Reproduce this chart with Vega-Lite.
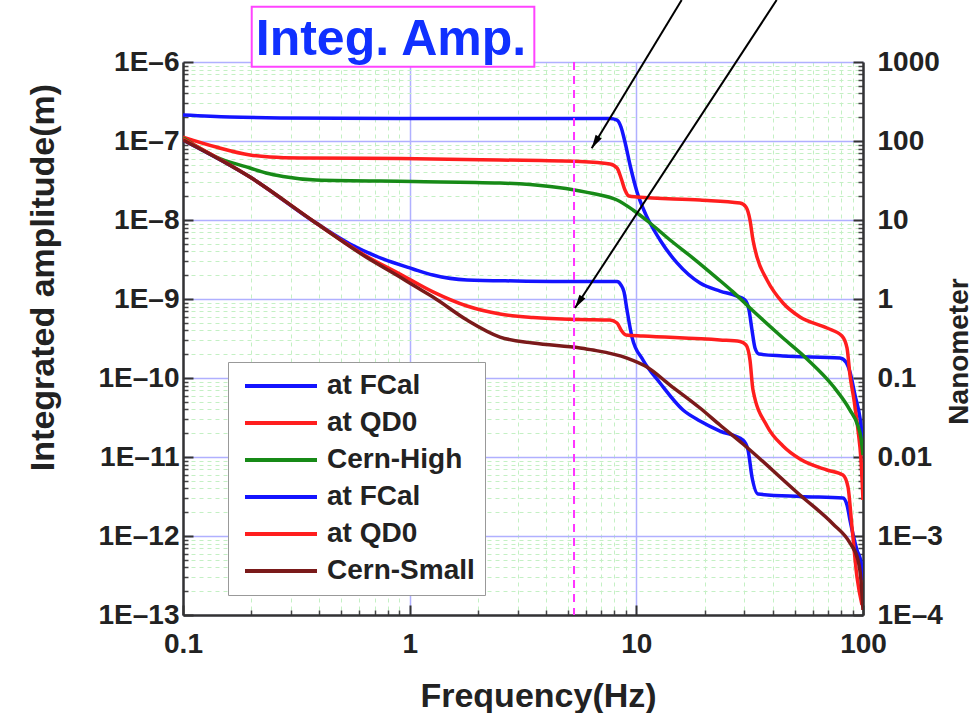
{
  "$schema": "https://vega.github.io/schema/vega-lite/v6.json",
  "width": 680,
  "height": 553,
  "autosize": {"type": "none"},
  "padding": {"left": 183, "top": 62, "right": 113, "bottom": 98},
  "background": "white",
  "config": {"view": {"stroke": null}, "font": "Liberation Sans"},
  "resolve": {"axis": {"x": "independent", "y": "independent"}},
  "data": {
    "values": [
      {"f": 0.1, "v": 2.13e-7, "series": "High: at FCal"},
      {"f": 0.161, "v": 2.01e-7, "series": "High: at FCal"},
      {"f": 0.268, "v": 1.96e-7, "series": "High: at FCal"},
      {"f": 0.906, "v": 1.93e-7, "series": "High: at FCal"},
      {"f": 3.07, "v": 1.93e-7, "series": "High: at FCal"},
      {"f": 7.65, "v": 1.93e-7, "series": "High: at FCal"},
      {"f": 8.22, "v": 1.84e-7, "series": "High: at FCal"},
      {"f": 8.56, "v": 1.5e-7, "series": "High: at FCal"},
      {"f": 8.91, "v": 9.71e-8, "series": "High: at FCal"},
      {"f": 9.38, "v": 4.97e-8, "series": "High: at FCal"},
      {"f": 10.07, "v": 2.26e-8, "series": "High: at FCal"},
      {"f": 11.03, "v": 1.16e-8, "series": "High: at FCal"},
      {"f": 12.72, "v": 5.58e-9, "series": "High: at FCal"},
      {"f": 15.12, "v": 2.86e-9, "series": "High: at FCal"},
      {"f": 19.09, "v": 1.59e-9, "series": "High: at FCal"},
      {"f": 23.39, "v": 1.26e-9, "series": "High: at FCal"},
      {"f": 27.81, "v": 1.09e-9, "series": "High: at FCal"},
      {"f": 30.16, "v": 9.71e-10, "series": "High: at FCal"},
      {"f": 31.41, "v": 7.26e-10, "series": "High: at FCal"},
      {"f": 32.38, "v": 4.05e-10, "series": "High: at FCal"},
      {"f": 33.38, "v": 2.4e-10, "series": "High: at FCal"},
      {"f": 34.76, "v": 2.01e-10, "series": "High: at FCal"},
      {"f": 44.36, "v": 1.9e-10, "series": "High: at FCal"},
      {"f": 79.15, "v": 1.79e-10, "series": "High: at FCal"},
      {"f": 84.14, "v": 1.59e-10, "series": "High: at FCal"},
      {"f": 87.6, "v": 1.19e-10, "series": "High: at FCal"},
      {"f": 92.19, "v": 6.09e-11, "series": "High: at FCal"},
      {"f": 96.98, "v": 3.12e-11, "series": "High: at FCal"},
      {"f": 100, "v": 1.5e-11, "series": "High: at FCal"},

      {"f": 0.1, "v": 1.12e-7, "series": "High: at QD0"},
      {"f": 0.14, "v": 8.39e-8, "series": "High: at QD0"},
      {"f": 0.1975, "v": 6.65e-8, "series": "High: at QD0"},
      {"f": 0.242, "v": 6.27e-8, "series": "High: at QD0"},
      {"f": 0.328, "v": 6.09e-8, "series": "High: at QD0"},
      {"f": 0.906, "v": 6.0e-8, "series": "High: at QD0"},
      {"f": 2.5, "v": 5.75e-8, "series": "High: at QD0"},
      {"f": 5.64, "v": 5.5e-8, "series": "High: at QD0"},
      {"f": 7.65, "v": 5.12e-8, "series": "High: at QD0"},
      {"f": 8.22, "v": 4.55e-8, "series": "High: at QD0"},
      {"f": 8.56, "v": 3.4e-8, "series": "High: at QD0"},
      {"f": 8.91, "v": 2.4e-8, "series": "High: at QD0"},
      {"f": 9.28, "v": 2.01e-8, "series": "High: at QD0"},
      {"f": 10.07, "v": 1.955e-8, "series": "High: at QD0"},
      {"f": 19.09, "v": 1.79e-8, "series": "High: at QD0"},
      {"f": 28.67, "v": 1.64e-8, "series": "High: at QD0"},
      {"f": 30.46, "v": 1.46e-8, "series": "High: at QD0"},
      {"f": 31.72, "v": 1.0e-8, "series": "High: at QD0"},
      {"f": 32.71, "v": 5.58e-9, "series": "High: at QD0"},
      {"f": 34.06, "v": 3.4e-9, "series": "High: at QD0"},
      {"f": 37.71, "v": 1.74e-9, "series": "High: at QD0"},
      {"f": 44.36, "v": 8.9e-10, "series": "High: at QD0"},
      {"f": 52.72, "v": 5.92e-10, "series": "High: at QD0"},
      {"f": 69.36, "v": 4.29e-10, "series": "High: at QD0"},
      {"f": 80.77, "v": 3.4e-10, "series": "High: at QD0"},
      {"f": 85.0, "v": 2.4e-10, "series": "High: at QD0"},
      {"f": 87.6, "v": 1.09e-10, "series": "High: at QD0"},
      {"f": 91.27, "v": 5.27e-11, "series": "High: at QD0"},
      {"f": 95.04, "v": 2.2e-11, "series": "High: at QD0"},
      {"f": 97.97, "v": 9.16e-12, "series": "High: at QD0"},
      {"f": 100, "v": 2.86e-12, "series": "High: at QD0"},

      {"f": 0.1, "v": 1.09e-7, "series": "Cern-High"},
      {"f": 0.14, "v": 6.27e-8, "series": "Cern-High"},
      {"f": 0.1975, "v": 4.55e-8, "series": "Cern-High"},
      {"f": 0.2323, "v": 3.93e-8, "series": "Cern-High"},
      {"f": 0.2762, "v": 3.55e-8, "series": "Cern-High"},
      {"f": 0.3862, "v": 3.21e-8, "series": "Cern-High"},
      {"f": 1.034, "v": 3.07e-8, "series": "Cern-High"},
      {"f": 2.503, "v": 2.94e-8, "series": "Cern-High"},
      {"f": 4.16, "v": 2.65e-8, "series": "Cern-High"},
      {"f": 5.641, "v": 2.33e-8, "series": "Cern-High"},
      {"f": 6.439, "v": 2.16e-8, "series": "Cern-High"},
      {"f": 8.22, "v": 1.79e-8, "series": "Cern-High"},
      {"f": 9.667, "v": 1.34e-8, "series": "Cern-High"},
      {"f": 11.49, "v": 9.16e-9, "series": "Cern-High"},
      {"f": 14.08, "v": 5.58e-9, "series": "Cern-High"},
      {"f": 17.78, "v": 3.3e-9, "series": "Cern-High"},
      {"f": 22.69, "v": 1.84e-9, "series": "Cern-High"},
      {"f": 26.7, "v": 1.23e-9, "series": "Cern-High"},
      {"f": 31.72, "v": 7.69e-10, "series": "Cern-High"},
      {"f": 44.36, "v": 3.21e-10, "series": "Cern-High"},
      {"f": 56.61, "v": 1.74e-10, "series": "Cern-High"},
      {"f": 73.74, "v": 7.92e-11, "series": "Cern-High"},
      {"f": 87.6, "v": 3.93e-11, "series": "Cern-High"},
      {"f": 95.04, "v": 2.47e-11, "series": "Cern-High"},
      {"f": 97.97, "v": 1.74e-11, "series": "Cern-High"},
      {"f": 100, "v": 1.06e-11, "series": "Cern-High"},

      {"f": 0.1, "v": 1.03e-7, "series": "Small: at FCal"},
      {"f": 0.1975, "v": 3.5e-8, "series": "Small: at FCal"},
      {"f": 0.3862, "v": 9.16e-9, "series": "Small: at FCal"},
      {"f": 0.5455, "v": 4.97e-9, "series": "Small: at FCal"},
      {"f": 0.7625, "v": 3.21e-9, "series": "Small: at FCal"},
      {"f": 1.034, "v": 2.4e-9, "series": "Small: at FCal"},
      {"f": 1.267, "v": 2.01e-9, "series": "Small: at FCal"},
      {"f": 1.79, "v": 1.74e-9, "series": "Small: at FCal"},
      {"f": 2.975, "v": 1.69e-9, "series": "Small: at FCal"},
      {"f": 5.641, "v": 1.66e-9, "series": "Small: at FCal"},
      {"f": 8.22, "v": 1.66e-9, "series": "Small: at FCal"},
      {"f": 8.56, "v": 1.5e-9, "series": "Small: at FCal"},
      {"f": 8.823, "v": 1.23e-9, "series": "Small: at FCal"},
      {"f": 9.095, "v": 7.26e-10, "series": "Small: at FCal"},
      {"f": 9.568, "v": 3.3e-10, "series": "Small: at FCal"},
      {"f": 10.7, "v": 1.69e-10, "series": "Small: at FCal"},
      {"f": 12.72, "v": 8.64e-11, "series": "Small: at FCal"},
      {"f": 16.07, "v": 3.93e-11, "series": "Small: at FCal"},
      {"f": 19.09, "v": 2.86e-11, "series": "Small: at FCal"},
      {"f": 23.39, "v": 2.13e-11, "series": "Small: at FCal"},
      {"f": 29.55, "v": 1.64e-11, "series": "Small: at FCal"},
      {"f": 31.09, "v": 1.23e-11, "series": "Small: at FCal"},
      {"f": 32.38, "v": 5.58e-12, "series": "Small: at FCal"},
      {"f": 34.41, "v": 3.4e-12, "series": "Small: at FCal"},
      {"f": 52.72, "v": 3.16e-12, "series": "Small: at FCal"},
      {"f": 81.59, "v": 3.03e-12, "series": "Small: at FCal"},
      {"f": 85.0, "v": 2.47e-12, "series": "Small: at FCal"},
      {"f": 87.6, "v": 1.59e-12, "series": "Small: at FCal"},
      {"f": 94.08, "v": 6.65e-13, "series": "Small: at FCal"},
      {"f": 97.97, "v": 4.69e-13, "series": "Small: at FCal"},
      {"f": 100, "v": 2.77e-13, "series": "Small: at FCal"},

      {"f": 0.1, "v": 1.06e-7, "series": "Small: at QD0"},
      {"f": 0.1975, "v": 3.5e-8, "series": "Small: at QD0"},
      {"f": 0.3862, "v": 9.16e-9, "series": "Small: at QD0"},
      {"f": 0.6418, "v": 3.5e-9, "series": "Small: at QD0"},
      {"f": 0.906, "v": 2.07e-9, "series": "Small: at QD0"},
      {"f": 1.267, "v": 1.23e-9, "series": "Small: at QD0"},
      {"f": 1.79, "v": 8.15e-10, "series": "Small: at QD0"},
      {"f": 2.503, "v": 6.46e-10, "series": "Small: at QD0"},
      {"f": 3.5, "v": 5.83e-10, "series": "Small: at QD0"},
      {"f": 5.641, "v": 5.5e-10, "series": "Small: at QD0"},
      {"f": 7.65, "v": 5.42e-10, "series": "Small: at QD0"},
      {"f": 8.22, "v": 4.97e-10, "series": "Small: at QD0"},
      {"f": 8.56, "v": 4.05e-10, "series": "Small: at QD0"},
      {"f": 9.003, "v": 3.5e-10, "series": "Small: at QD0"},
      {"f": 10.7, "v": 3.4e-10, "series": "Small: at QD0"},
      {"f": 23.39, "v": 3.03e-10, "series": "Small: at QD0"},
      {"f": 28.67, "v": 2.9e-10, "series": "Small: at QD0"},
      {"f": 30.46, "v": 2.62e-10, "series": "Small: at QD0"},
      {"f": 31.72, "v": 1.69e-10, "series": "Small: at QD0"},
      {"f": 32.71, "v": 7.05e-11, "series": "Small: at QD0"},
      {"f": 37.71, "v": 2.47e-11, "series": "Small: at QD0"},
      {"f": 44.36, "v": 1.38e-11, "series": "Small: at QD0"},
      {"f": 52.72, "v": 9.43e-12, "series": "Small: at QD0"},
      {"f": 69.36, "v": 6.85e-12, "series": "Small: at QD0"},
      {"f": 81.59, "v": 5.92e-12, "series": "Small: at QD0"},
      {"f": 85.87, "v": 4.17e-12, "series": "Small: at QD0"},
      {"f": 89.41, "v": 1.3e-12, "series": "Small: at QD0"},
      {"f": 94.08, "v": 3.03e-13, "series": "Small: at QD0"},
      {"f": 98.97, "v": 1.34e-13, "series": "Small: at QD0"},

      {"f": 0.1, "v": 1.03e-7, "series": "Cern-Small"},
      {"f": 0.1975, "v": 3.5e-8, "series": "Cern-Small"},
      {"f": 0.3862, "v": 9.16e-9, "series": "Cern-Small"},
      {"f": 0.6418, "v": 3.4e-9, "series": "Cern-Small"},
      {"f": 0.906, "v": 1.9e-9, "series": "Cern-Small"},
      {"f": 1.034, "v": 1.5e-9, "series": "Cern-Small"},
      {"f": 1.267, "v": 1.06e-9, "series": "Cern-Small"},
      {"f": 1.79, "v": 5.42e-10, "series": "Cern-Small"},
      {"f": 2.503, "v": 3.3e-10, "series": "Cern-Small"},
      {"f": 3.5, "v": 2.77e-10, "series": "Cern-Small"},
      {"f": 5.641, "v": 2.4e-10, "series": "Cern-Small"},
      {"f": 6.439, "v": 2.26e-10, "series": "Cern-Small"},
      {"f": 9.095, "v": 1.79e-10, "series": "Cern-Small"},
      {"f": 11.14, "v": 1.38e-10, "series": "Cern-Small"},
      {"f": 14.08, "v": 8.15e-11, "series": "Cern-Small"},
      {"f": 19.09, "v": 4.17e-11, "series": "Cern-Small"},
      {"f": 23.39, "v": 2.54e-11, "series": "Cern-Small"},
      {"f": 29.55, "v": 1.46e-11, "series": "Cern-Small"},
      {"f": 52.72, "v": 3.3e-12, "series": "Cern-Small"},
      {"f": 73.74, "v": 1.42e-12, "series": "Cern-Small"},
      {"f": 87.6, "v": 8.15e-13, "series": "Cern-Small"},
      {"f": 95.04, "v": 4.97e-13, "series": "Cern-Small"},
      {"f": 97.97, "v": 2.77e-13, "series": "Cern-Small"},
      {"f": 100, "v": 1.16e-13, "series": "Cern-Small"}
    ]
  },
  "layer": [
    {
      "data": {"values": [{"f": 1, "v": 1e-9}]},
      "mark": {"type": "point", "opacity": 0},
      "encoding": {
        "x": {"field": "f", "type": "quantitative",
          "scale": {"type": "log", "domain": [0.1, 100], "nice": false},
          "axis": {"orient": "bottom", "values": [0.2,0.3,0.4,0.5,0.6,0.7,0.8,0.9,2,3,4,5,6,7,8,9,20,30,40,50,60,70,80,90],
            "labels": false, "domain": false, "ticks": true, "tickSize": -5, "tickWidth": 1.5, "tickColor": "#444",
            "grid": true, "gridColor": "#c4f0c4", "gridDash": [4, 4], "gridWidth": 1, "title": null, "zindex": 0}},
        "y": {"field": "v", "type": "quantitative",
          "scale": {"type": "log", "domain": [1e-13, 1e-6], "nice": false},
          "axis": {"orient": "left", "values": [2e-13,3e-13,4e-13,5e-13,6e-13,7e-13,8e-13,9e-13,2e-12,3e-12,4e-12,5e-12,6e-12,7e-12,8e-12,9e-12,2e-11,3e-11,4e-11,5e-11,6e-11,7e-11,8e-11,9e-11,2e-10,3e-10,4e-10,5e-10,6e-10,7e-10,8e-10,9e-10,2e-9,3e-9,4e-9,5e-9,6e-9,7e-9,8e-9,9e-9,2e-8,3e-8,4e-8,5e-8,6e-8,7e-8,8e-8,9e-8,2e-7,3e-7,4e-7,5e-7,6e-7,7e-7,8e-7,9e-7],
            "labels": false, "domain": false, "ticks": true, "tickSize": -5, "tickWidth": 1.5, "tickColor": "#444",
            "grid": true, "gridColor": "#c4f0c4", "gridDash": [4, 4], "gridWidth": 1, "title": null, "zindex": 0}}
      }
    },
    {
      "data": {"values": [{"f": 1, "v": 1e-9}]},
      "mark": {"type": "point", "opacity": 0},
      "encoding": {
        "x": {"field": "f", "type": "quantitative", "scale": {"type": "log", "domain": [0.1, 100], "nice": false}, "axis": null},
        "y": {"field": "v", "type": "quantitative",
          "scale": {"type": "log", "domain": [1e-13, 1e-6], "nice": false},
          "axis": {"orient": "right", "values": [2e-13,3e-13,4e-13,5e-13,6e-13,7e-13,8e-13,9e-13,2e-12,3e-12,4e-12,5e-12,6e-12,7e-12,8e-12,9e-12,2e-11,3e-11,4e-11,5e-11,6e-11,7e-11,8e-11,9e-11,2e-10,3e-10,4e-10,5e-10,6e-10,7e-10,8e-10,9e-10,2e-9,3e-9,4e-9,5e-9,6e-9,7e-9,8e-9,9e-9,2e-8,3e-8,4e-8,5e-8,6e-8,7e-8,8e-8,9e-8,2e-7,3e-7,4e-7,5e-7,6e-7,7e-7,8e-7,9e-7],
            "labels": false, "domain": false, "ticks": true, "tickSize": -5, "tickWidth": 1.5, "tickColor": "#444",
            "grid": false, "title": null, "zindex": 0}}
      }
    },
    {
      "mark": {"type": "line", "strokeWidth": 3.5, "interpolate": "monotone", "clip": true},
      "encoding": {
        "x": {"field": "f", "type": "quantitative",
          "scale": {"type": "log", "domain": [0.1, 100], "nice": false},
          "axis": {"orient": "bottom", "values": [0.1, 1, 10, 100],
            "labelExpr": "datum.value < 0.5 ? '0.1' : '' + datum.value",
            "labelFlush": false, "labelFont": "Liberation Sans", "labelFontSize": 28, "labelFontWeight": "bold", "labelColor": "#222",
            "labelPadding": 25, "tickSize": -10, "tickWidth": 2, "tickColor": "#333",
            "domainColor": "#333", "domainWidth": 2.5,
            "grid": true, "gridColor": "#b0b0ff", "gridWidth": 1.5,
            "title": "Frequency(Hz)", "titleFont": "Liberation Sans", "titleFontSize": 34, "titleFontWeight": "bold", "titleColor": "#222",
            "titleX": 355, "titleY": 91, "titleBaseline": "alphabetic", "titleAlign": "center", "zindex": 0}},
        "y": {"field": "v", "type": "quantitative",
          "scale": {"type": "log", "domain": [1e-13, 1e-6], "nice": false},
          "axis": {"orient": "left", "values": [1e-13, 1e-12, 1e-11, 1e-10, 1e-9, 1e-8, 1e-7, 1e-6],
            "labelExpr": "'1E–' + round(-log(datum.value) / LN10)",
            "labelFlush": false, "labelFont": "Liberation Sans", "labelFontSize": 28, "labelFontWeight": "bold", "labelColor": "#222",
            "labelPadding": 14, "tickSize": -10, "tickWidth": 2, "tickColor": "#333",
            "domainColor": "#333", "domainWidth": 2.5,
            "grid": true, "gridColor": "#b0b0ff", "gridWidth": 1.5,
            "title": "Integrated amplitude(m)", "titleFont": "Liberation Sans", "titleFontSize": 34, "titleFontWeight": "bold", "titleColor": "#222",
            "titleX": -130, "titleY": 215, "titleAngle": 270, "titleBaseline": "alphabetic", "titleAlign": "center", "zindex": 0}},
        "color": {"field": "series", "type": "nominal",
          "scale": {"domain": ["High: at FCal", "High: at QD0", "Cern-High", "Small: at FCal", "Small: at QD0", "Cern-Small"],
                    "range": ["#1414ff", "#ff1e1e", "#178a17", "#1414ff", "#ff1e1e", "#7a1a1a"]},
          "legend": {"orient": "none", "legendX": 45, "legendY": 300, "title": null,
            "labelExpr": "replace(replace(datum.label, 'High: ', ''), 'Small: ', '')",
            "labelFont": "Liberation Sans", "labelFontSize": 28, "labelFontWeight": "bold", "labelColor": "#222", "labelLimit": 400,
            "symbolType": "M-0.7,0H6.5", "symbolSize": 400, "symbolStrokeWidth": 4,
            "labelOffset": 61, "padding": 10, "rowPadding": 9,
            "strokeColor": "#999", "fillColor": "white", "cornerRadius": 0}}
      }
    },
    {
      "data": {"values": [{"f": 1, "v": 1e-9}]},
      "mark": {"type": "point", "opacity": 0},
      "encoding": {
        "x": {"field": "f", "type": "quantitative", "scale": {"type": "log", "domain": [0.1, 100], "nice": false}, "axis": null},
        "y": {"field": "v", "type": "quantitative",
          "scale": {"type": "log", "domain": [1e-13, 1e-6], "nice": false},
          "axis": {"orient": "right", "values": [1e-13, 1e-12, 1e-11, 1e-10, 1e-9, 1e-8, 1e-7, 1e-6],
            "labelExpr": "['1E–4','1E–3','0.01','0.1','1','10','100','1000'][round(log(datum.value) / LN10) + 13]",
            "labelFlush": false, "labelFont": "Liberation Sans", "labelFontSize": 28, "labelFontWeight": "bold", "labelColor": "#222",
            "labelPadding": 24, "tickSize": -10, "tickWidth": 2, "tickColor": "#333",
            "domainColor": "#333", "domainWidth": 2.5, "grid": false,
            "title": "Nanometer", "titleFont": "Liberation Sans", "titleFontSize": 28, "titleFontWeight": "bold", "titleColor": "#222",
            "titleX": 104, "titleY": 289, "titleAngle": 270, "titleBaseline": "alphabetic", "titleAlign": "center", "zindex": 0}}
      }
    },
    {
      "data": {"values": [{"f": 5.31}]},
      "mark": {"type": "rule", "color": "#ff33ff", "strokeWidth": 2, "strokeDash": [8, 6]},
      "encoding": {
        "x": {"field": "f", "type": "quantitative", "scale": {"type": "log", "domain": [0.1, 100], "nice": false}, "axis": null}
      }
    },
    {
      "data": {"values": [
        {"f": 15.85, "v": 6.09e-6, "arrow": "upper"},
        {"f": 6.355, "v": 8.08e-8, "arrow": "upper"},
        {"f": 41.6, "v": 6.09e-6, "arrow": "lower"},
        {"f": 5.363, "v": 7.69e-10, "arrow": "lower"}
      ]},
      "mark": {"type": "line", "color": "black", "strokeWidth": 2, "clip": false},
      "encoding": {
        "x": {"field": "f", "type": "quantitative", "scale": {"type": "log", "domain": [0.1, 100], "nice": false}, "axis": null},
        "y": {"field": "v", "type": "quantitative", "scale": {"type": "log", "domain": [1e-13, 1e-6], "nice": false}, "axis": null},
        "detail": {"field": "arrow", "type": "nominal"}
      }
    },
    {
      "data": {"values": [{"f": 6.355, "v": 8.08e-8}]},
      "mark": {"type": "point", "shape": "M0,0L-0.45,-1.7L0.45,-1.7Z", "size": 256, "filled": true, "color": "black", "opacity": 1, "angle": 31},
      "encoding": {
        "x": {"field": "f", "type": "quantitative", "scale": {"type": "log", "domain": [0.1, 100], "nice": false}, "axis": null},
        "y": {"field": "v", "type": "quantitative", "scale": {"type": "log", "domain": [1e-13, 1e-6], "nice": false}, "axis": null}
      }
    },
    {
      "data": {"values": [{"f": 5.363, "v": 7.69e-10}]},
      "mark": {"type": "point", "shape": "M0,0L-0.45,-1.7L0.45,-1.7Z", "size": 256, "filled": true, "color": "black", "opacity": 1, "angle": 33},
      "encoding": {
        "x": {"field": "f", "type": "quantitative", "scale": {"type": "log", "domain": [0.1, 100], "nice": false}, "axis": null},
        "y": {"field": "v", "type": "quantitative", "scale": {"type": "log", "domain": [1e-13, 1e-6], "nice": false}, "axis": null}
      }
    },
    {
      "data": {"values": [{"f": 0.201, "f2": 3.548, "v": 8.72e-7, "v2": 5.01e-6}]},
      "mark": {"type": "rect", "fill": "white", "stroke": "#ff44ff", "strokeWidth": 2, "clip": false},
      "encoding": {
        "x": {"field": "f", "type": "quantitative", "scale": {"type": "log", "domain": [0.1, 100], "nice": false}, "axis": null},
        "x2": {"field": "f2"},
        "y": {"field": "v", "type": "quantitative", "scale": {"type": "log", "domain": [1e-13, 1e-6], "nice": false}, "axis": null},
        "y2": {"field": "v2"}
      }
    },
    {
      "data": {"values": [{"f": 0.827, "v": 1.23e-6, "label": "Integ. Amp."}]},
      "mark": {"type": "text", "font": "Liberation Sans", "fontSize": 50, "fontWeight": "bold", "color": "#1030ff", "align": "center", "baseline": "alphabetic", "clip": false},
      "encoding": {
        "x": {"field": "f", "type": "quantitative", "scale": {"type": "log", "domain": [0.1, 100], "nice": false}, "axis": null},
        "y": {"field": "v", "type": "quantitative", "scale": {"type": "log", "domain": [1e-13, 1e-6], "nice": false}, "axis": null},
        "text": {"field": "label"}
      }
    }
  ]
}
